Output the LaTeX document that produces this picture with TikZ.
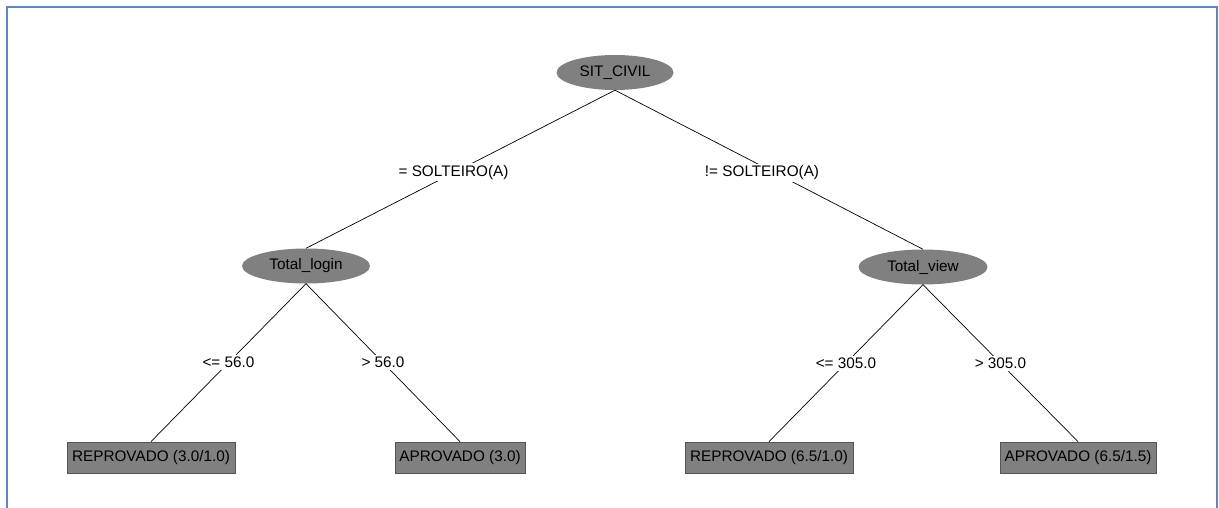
\documentclass[tikz,border=0pt]{standalone}
\usepackage{fontspec}
\setmainfont{Liberation Sans}
\usetikzlibrary{shapes.geometric}
\definecolor{framecol}{HTML}{5B87C5}
\definecolor{nodegray}{HTML}{808080}
\definecolor{edgegray}{HTML}{555555}
\tikzset{
  treefont/.style={font=\fontsize{15.3}{17}\selectfont},
  attr/.style={ellipse, fill=nodegray, inner sep=0pt,
    minimum width=#1, minimum height=35pt, treefont},
  leaf/.style={rectangle, fill=nodegray, draw=edgegray, line width=0.8pt,
    inner sep=0pt, minimum width=#1, minimum height=31pt, treefont},
  cond/.style={fill=white, inner sep=2pt, treefont},
  branch/.style={draw=black, line width=0.7pt},
}
\begin{document}
\begin{tikzpicture}[x=1pt, y=-1pt]
\useasboundingbox (0,0) rectangle (1219,508);
% frame, open at the bottom
\draw[framecol, line width=2.2pt] (7,508) -- (7,7) -- (1217,7) -- (1217,508);

% decision nodes
\node[attr=117pt] (root) at (615,72.5) {SIT\_CIVIL};
\node[attr=128pt] (login) at (306,266) {Total\_login};
\node[attr=129pt] (view) at (923,267) {Total\_view};

% leaves
\node[leaf=168pt] (l1) at (151,457.5) {REPROVADO (3.0/1.0)};
\node[leaf=130pt] (l2) at (460,457.5) {APROVADO (3.0)};
\node[leaf=168pt] (l3) at (769,457.5) {REPROVADO (6.5/1.0)};
\node[leaf=156pt] (l4) at (1078,457.5) {APROVADO (6.5/1.5)};

% branches
\draw[branch] (root.south) -- (login.north) node[cond, pos=0.5, xshift=-7pt, yshift=-3pt] (c1) {= SOLTEIRO(A)};
\draw[branch] (root.south) -- (view.north) node[cond, pos=0.5, xshift=-7pt, yshift=-3pt] (c2) {!= SOLTEIRO(A)};
\draw[branch] (login.south) -- (l1.north) node[cond, pos=0.5] (c3) {<= 56.0};
\draw[branch] (login.south) -- (l2.north) node[cond, pos=0.5] (c4) {> 56.0};
\draw[branch] (view.south) -- (l3.north) node[cond, pos=0.5] (c5) {<= 305.0};
\draw[branch] (view.south) -- (l4.north) node[cond, pos=0.5] (c6) {> 305.0};
\end{tikzpicture}
\end{document}
